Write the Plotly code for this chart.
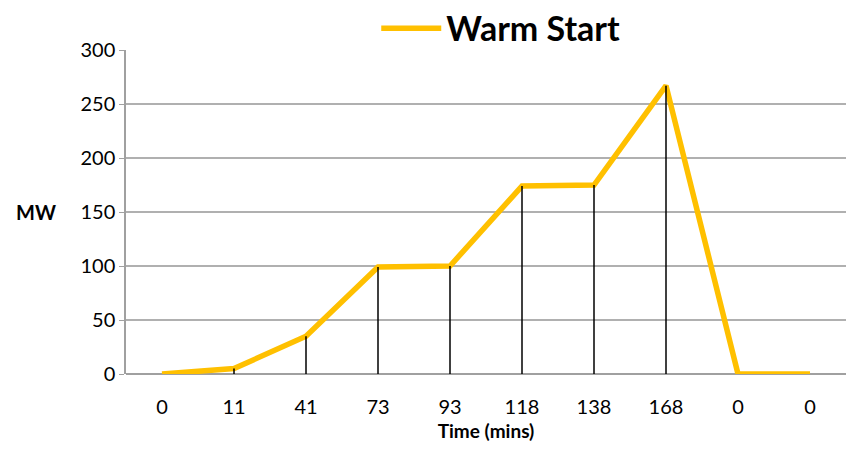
import plotly.graph_objects as go

tick_labels = ["0", "11", "41", "73", "93", "118", "138", "168", "0", "0"]
mw_values = [0, 5, 35, 99, 100, 174, 175, 267, 0, 0]
series_name = "Warm Start"

positions = list(range(len(tick_labels)))
FONT = "Lato, Carlito, Calibri, sans-serif"

fig = go.Figure()
fig.add_trace(go.Scatter(
    x=positions, y=mw_values, mode="lines", name=series_name,
    line=dict(color="#FFC000", width=5.5),
))
# drop lines from each point to the axis
fig.add_trace(go.Scatter(
    x=positions, y=mw_values, mode="markers", showlegend=False,
    marker=dict(size=1, color="rgba(0,0,0,0)"),
    error_y=dict(type="data", symmetric=False, array=[0] * len(mw_values),
                 arrayminus=mw_values, color="black", thickness=1.5, width=0),
    hoverinfo="skip",
))

fig.update_layout(
    width=838, height=434,
    margin=dict(l=118, r=0, t=42, b=68, autoexpand=False),
    paper_bgcolor="white", plot_bgcolor="white",
    font=dict(family=FONT, color="black", size=20),
    showlegend=True,
    legend=dict(orientation="h", x=0.588, xanchor="center", xref="container",
                y=1.066, yanchor="middle", yref="paper",
                font=dict(size=34, family=FONT, weight="bold"),
                itemwidth=60, bgcolor="rgba(0,0,0,0)"),
    xaxis=dict(
        range=[-0.5, len(tick_labels) - 0.5],
        tickmode="array", tickvals=positions, ticktext=tick_labels,
        showgrid=False, zeroline=False, showline=False,
        ticks="", tickfont=dict(size=20), ticklabelstandoff=19,
        title=dict(text="<b>Time (mins)</b>", font=dict(size=19), standoff=8),
    ),
    yaxis=dict(
        range=[0, 300], tickmode="array", tickvals=[0, 50, 100, 150, 200, 250, 300],
        showgrid=True, gridcolor="#B0B0B0", gridwidth=1.5,
        zeroline=True, zerolinecolor="#A0A0A0", zerolinewidth=2,
        showline=True, linecolor="#A0A0A0", linewidth=1.5,
        ticks="outside", ticklen=5, tickcolor="#A0A0A0",
        tickfont=dict(size=20), ticklabelstandoff=0,
    ),
    annotations=[dict(text="<b>MW</b>", xref="paper", yref="paper", x=-0.155, y=0.5,
                      xanchor="left", yanchor="middle", showarrow=False,
                      font=dict(size=20, family=FONT))],
)

fig.write_html("out.html")
